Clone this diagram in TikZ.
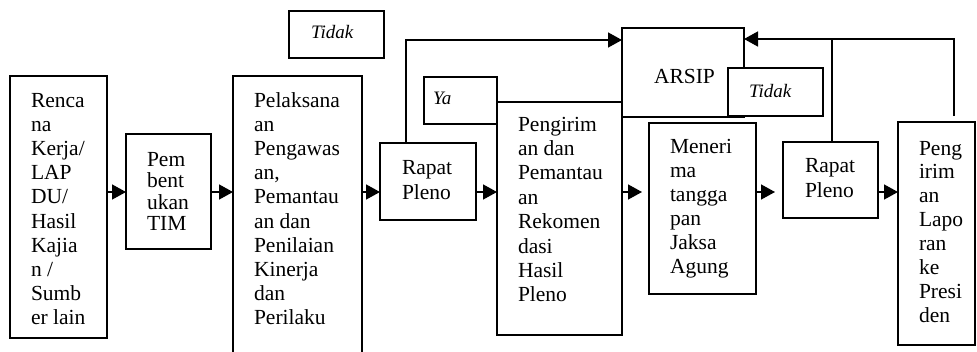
\documentclass[tikz,border=0pt]{standalone}
\usepackage{fontspec}
\setmainfont{Liberation Serif}
\usetikzlibrary{arrows.meta,fit}
% a left-aligned block of lines whose baseline is the first line
\newcommand\stack[2][24.2]{{\fontsize{21.5}{#1}\selectfont\begin{tabular}[t]{@{}l@{}}#2\end{tabular}}}
\newcommand\lbl[1]{{\fontsize{19}{20}\selectfont\itshape #1}}
\begin{document}
\begin{tikzpicture}[x=1pt,y=-1pt,
  box/.style={draw,line width=1.1pt,fill=white,inner sep=0pt,outer sep=0pt},
  txt/.style={inner sep=0pt,outer sep=0pt,anchor=base west},
  arr/.style={line width=1.5pt,-{Triangle[length=14pt,width=15pt]}},
  link/.style={line width=1.5pt}]
\clip (0,0) rectangle (977,351);
\fill[white] (0,0) rectangle (977,351);

% boxes
\node[box, fit={(10,76) (107,338)}] (b1) {};
\node[box, fit={(126,134) (211,249)}] (b2) {};
\node[box, fit={(233,76) (362,362)}] (b3) {};
\node[box, fit={(289,11) (384,58)}] (t1) {};
\node[box, fit={(380,143) (476,220)}] (rp1) {};
\node[box, fit={(424,77) (497,124)}] (ya) {};
\node[box, fit={(497,102) (622,335)}] (pg) {};
\node[box, fit={(622,28) (744,117)}] (ar) {};
\node[box, fit={(649,123) (756,294)}] (mn) {};
\node[box, fit={(728,68) (823,116)}] (t2) {};
\node[box, fit={(783,142) (878,218)}] (rp2) {};
\node[box, fit={(898,122) (975,345)}] (pl) {};

% texts
\node[txt] (b1t) at (31,107) {\stack{Renca\\na\\Kerja/\\LAP\\DU/\\Hasil\\Kajia\\n /\\Sumb\\er lain}};
\node[txt] (b2t) at (147,166) {\stack[21.5]{Pem\\bent\\ukan\\TIM}};
\node[txt] (b3t) at (254,107) {\stack{Pelaksana\\an\\Pengawas\\an,\\Pemantau\\an dan\\Penilaian\\Kinerja\\dan\\Perilaku}};
\node[txt] (t1t) at (311,38) {\lbl{Tidak}};
\node[txt] (rp1t) at (402,174) {\stack[25]{Rapat\\Pleno}};
\node[txt] (yat) at (433,104) {\lbl{Ya}};
\node[txt] (pgt) at (518,131) {\stack[24.4]{Pengirim\\an dan\\Pemantau\\an\\Rekomen\\dasi\\Hasil\\Pleno}};
\node[txt] (art) at (654,83) {\stack{ARSIP}};
\node[txt] (mnt) at (670,153) {\stack[24]{Meneri\\ma\\tangga\\pan\\Jaksa\\Agung}};
\node[txt] (t2t) at (749,97) {\lbl{Tidak}};
\node[txt] (rp2t) at (805,172) {\stack[25]{Rapat\\Pleno}};
\node[txt] (plt) at (919,155) {\stack[23.9]{Peng\\irim\\an\\Lapo\\ran\\ke\\Presi\\den}};

% main flow
\coordinate (row) at (0,192);
\draw[arr] (b1.east |- row) -- (b2.west |- row);
\draw[arr] (b2.east |- row) -- (b3.west |- row);
\draw[arr] (b3.east |- row) -- (rp1.west |- row);
\draw[arr] (rp1.east |- row) -- (pg.west |- row);
\draw[arr, shorten >=7pt] (pg.east |- row) -- (mn.west |- row);
\draw[arr, shorten >=8pt] (mn.east |- row) -- (rp2.west |- row);
\draw[arr] (rp2.east |- row) -- (pl.west |- row);

% returns to the archive
\draw[arr] ([xshift=26pt]rp1.north west) |- ([yshift=-12pt]ar.north west);
\coordinate (ain) at ([yshift=-11pt]ar.north east);
\draw[arr, shorten <=6pt] ([xshift=56pt]pl.north west) |- (ain);
\coordinate (j2) at ([xshift=49pt]rp2.north west);
\draw[link] (j2) -- (j2 |- ain);
\end{tikzpicture}
\end{document}
